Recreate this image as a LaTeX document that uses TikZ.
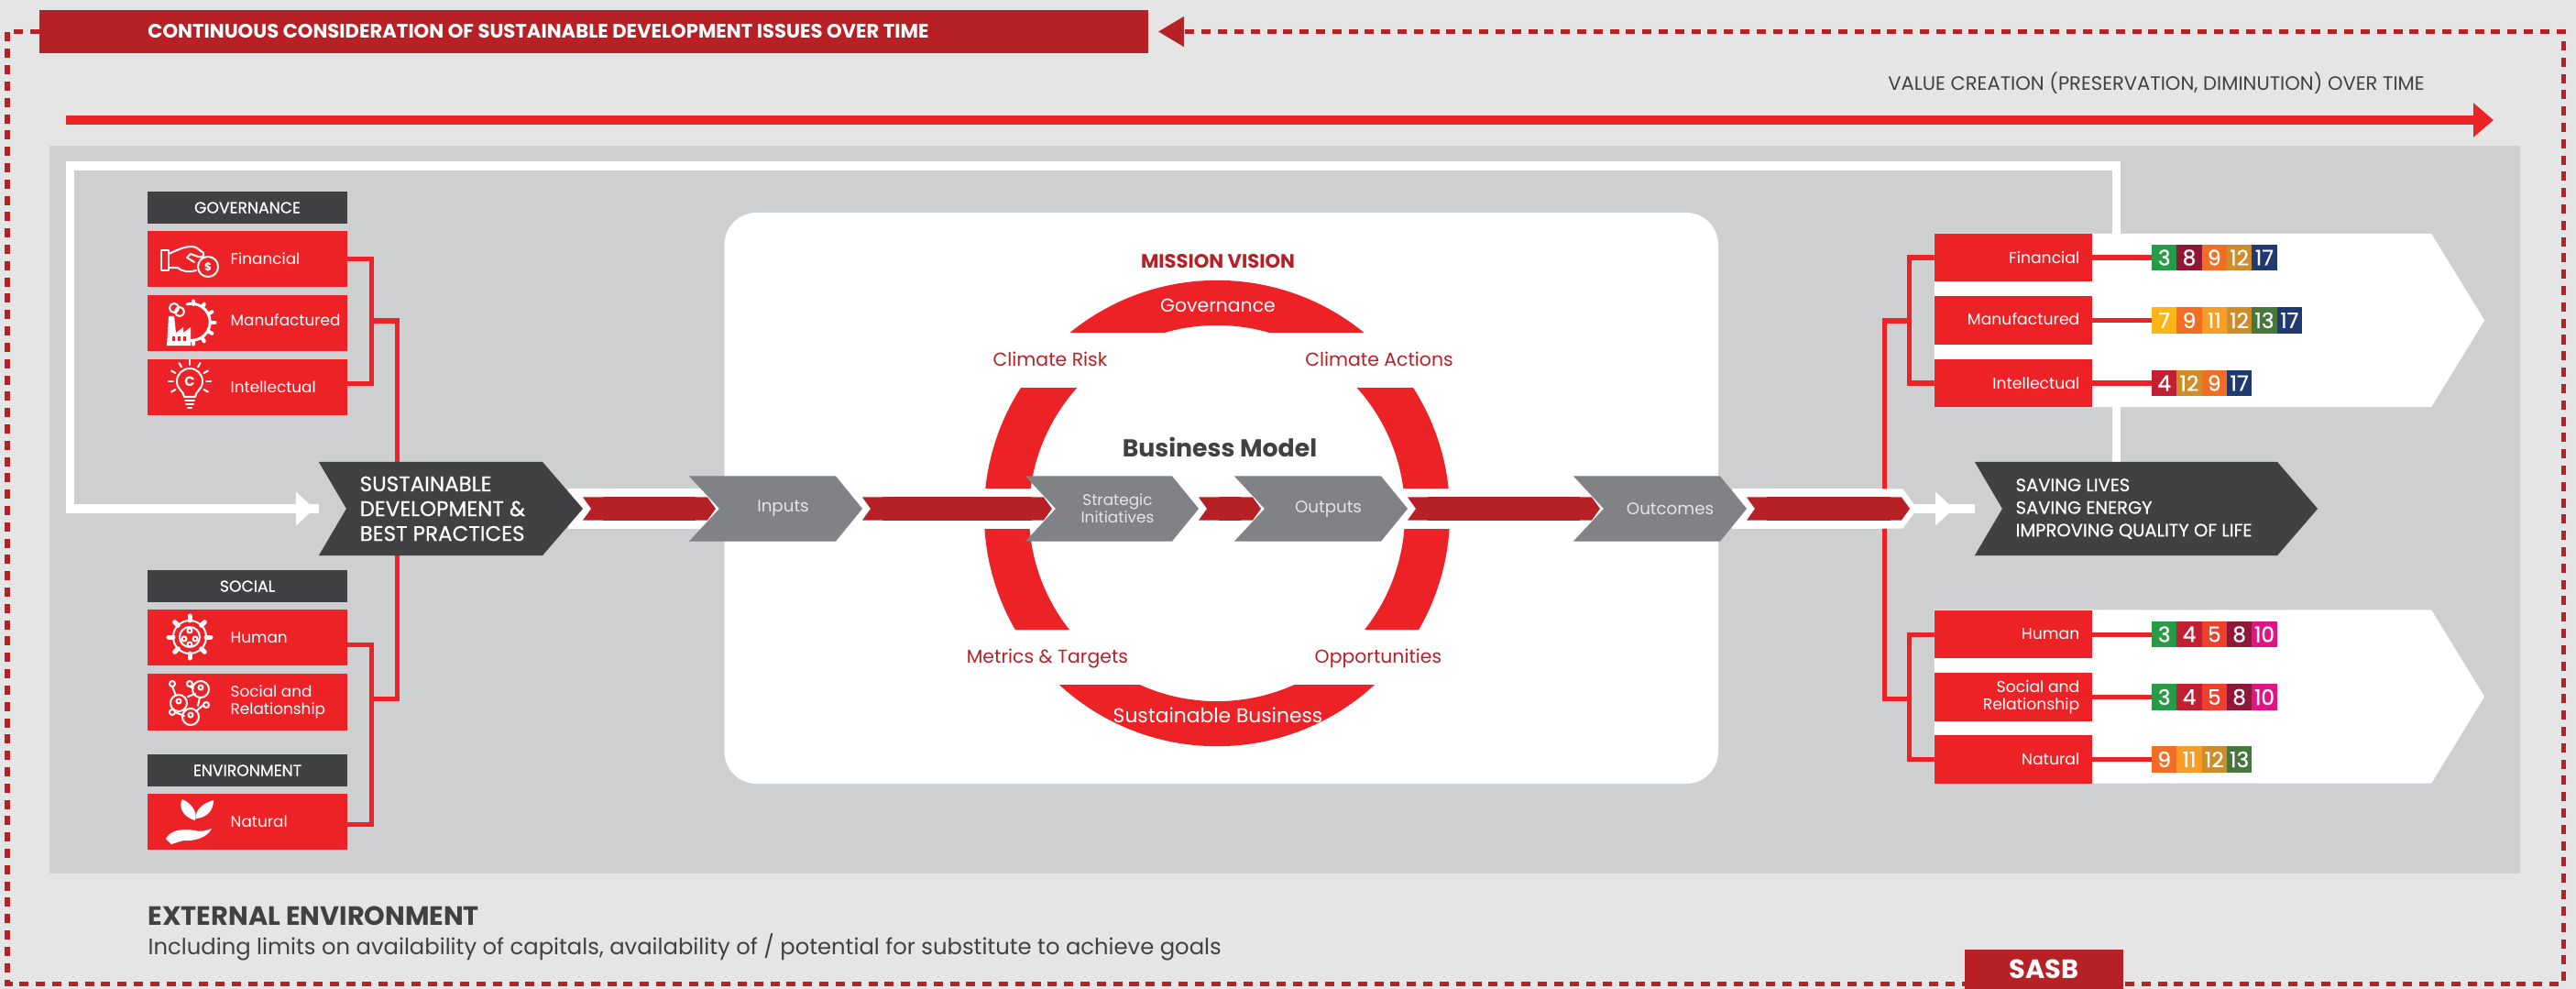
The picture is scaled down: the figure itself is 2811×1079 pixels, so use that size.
\documentclass[tikz,border=0pt]{standalone}
\usepackage{fontspec}
\setmainfont{Poppins}
\newfontfamily\medfont[FakeBold=0.6]{Poppins}
\usetikzlibrary{arrows.meta,positioning,backgrounds}

\definecolor{paper}{HTML}{E5E5E6}
\definecolor{panel}{HTML}{CDCFD1}
\definecolor{brightred}{HTML}{EC2227}
\definecolor{brick}{HTML}{B72126}
\definecolor{slate}{HTML}{414042}
\definecolor{midgrey}{HTML}{808285}
\definecolor{sdgA}{HTML}{279B48}
\definecolor{sdgB}{HTML}{C31F33}
\definecolor{sdgC}{HTML}{EF402B}
\definecolor{sdgD}{HTML}{FBB516}
\definecolor{sdgE}{HTML}{8F1838}
\definecolor{sdgF}{HTML}{F36D25}
\definecolor{sdgG}{HTML}{E11484}
\definecolor{sdgH}{HTML}{F99D26}
\definecolor{sdgI}{HTML}{CF8D2A}
\definecolor{sdgJ}{HTML}{48773E}
\definecolor{sdgK}{HTML}{1F3A70}

\newcommand{\tagpath}[2]{(path picture bounding box.north west) -- ([xshift=-#2]path picture bounding box.north east) -- (path picture bounding box.east) -- ([xshift=-#2]path picture bounding box.south east) -- (path picture bounding box.south west) -- ([xshift=#1]path picture bounding box.west) -- cycle}

\begin{document}
\begin{tikzpicture}[x=0.01cm,y=-0.01cm]
		\tikzstyle{base_box}=[rectangle,inner sep=0,outer sep=0]
		\tikzstyle{red_box}=[base_box,fill=brightred,minimum width=2.18cm,minimum height=.61cm]
		\tikzstyle{head_box}=[base_box,fill=slate,text=white,minimum width=2.18cm,minimum height=.35cm,font=\medfont\fontsize{4.9}{6}\selectfont]
		\tikzstyle{right_box}=[base_box,fill=brightred,minimum width=1.72cm,minimum height=.52cm]
		\tikzstyle{box_text}=[anchor=west,xshift=.9cm,inner sep=0,text=white,align=left,font=\fontsize{4.8}{5.4}\selectfont]
		\tikzstyle{right_text}=[anchor=east,xshift=-.13cm,inner sep=0,text=white,align=right,font=\fontsize{4.9}{5.4}\selectfont]
		\tikzstyle{sdg_badge}=[base_box,text=white,minimum width=.273cm,minimum height=.28cm,font=\medfont\fontsize{6.6}{7}\selectfont]
		\tikzstyle{grey_tag}=[base_box,minimum width=1.89cm,minimum height=.71cm,path picture={\fill [midgrey] \tagpath{.33cm}{.29cm};}]
		\tikzstyle{dark_tag}=[base_box,minimum height=1.02cm,path picture={\fill [slate] \tagpath{.3cm}{.44cm};}]
		\tikzstyle{white_tag}=[base_box,minimum width=6cm,minimum height=1.89cm,path picture={\fill [white] \tagpath{0cm}{.58cm};}]
		\tikzstyle{grey_text}=[inner sep=0,xshift=.08cm,text=paper,align=center,font=\fontsize{5.2}{5.4}\selectfont]
		\tikzstyle{dark_text}=[anchor=west,xshift=.44cm,inner sep=0,text=white,align=left,font=\medfont\fontsize{5.55}{7}\selectfont]
		\tikzstyle{ring_text}=[inner sep=0,text=brick,font=\fontsize{5.8}{6}\selectfont]
		\tikzstyle{link}=[draw=brightred,line width=.05cm]
		\tikzstyle{feedback}=[draw=white,line width=.09cm]
		\tikzstyle{head_tip}=[-{Triangle[length=.2cm,width=.36cm]}]
		\tikzstyle{flow_under}=[draw=white,line width=.43cm,shorten >=-.33cm,shorten <=-.16cm]
		\tikzstyle{flow_red}=[draw=brick,line width=.25cm,{Triangle Cap[length=.09cm,reversed]}-{Triangle Cap[length=.09cm]},shorten >=-.29cm]
		\tikzstyle{dash_frame}=[draw=brick,line width=.05cm,dash pattern=on .1cm off .078cm,-{Triangle[length=.28cm,width=.32cm,fill=brick]}]
		\tikzstyle{value_arrow}=[draw=brightred,line width=.105cm,-{Triangle[length=.22cm,width=.36cm]}]
		\tikzstyle{icon}=[draw=white,line width=.02cm,line cap=round,line join=round]
		\tikzstyle{icon_text}=[inner sep=0,text=white,font=\bfseries\fontsize{3.4}{4}\selectfont]

		\useasboundingbox (0,0) rectangle (2811,1079);

		% tags
		\node (SD) [dark_tag,minimum width=2.88cm] at (492,555) {};
		\node (RS) [dark_tag,minimum width=3.74cm] at (2342,555) {};
		\node (Inputs) [grey_tag] at (846.5,555) {};
		\node (Strategic) [grey_tag] at (1213.5,555) {};
		\node (Outputs) [grey_tag] at (1441.5,555) {};
		\node (Outcomes) [grey_tag] at (1811.5,555) {};

		% capitals, left
		\node (govHead) [head_box] at (270,226.5) {GOVERNANCE};
		\node (LFin) [red_box] at (270,282.25) {};
		\node (LMan) [red_box] at (270,352.75) {};
		\node (LInt) [red_box] at (270,422.5) {};
		\node (socHead) [head_box] at (270,639.5) {SOCIAL};
		\node (LHum) [red_box] at (270,695.5) {};
		\node (LSoc) [red_box] at (270,766) {};
		\node (envHead) [head_box] at (270,840.5) {ENVIRONMENT};
		\node (LNat) [red_box] at (270,896.5) {};
		\node at (LFin.west) [box_text] {Financial};
		\node at (LMan.west) [box_text,yshift=.04cm] {Manufactured};
		\node at (LInt.west) [box_text] {Intellectual};
		\node at (LHum.west) [box_text] {Human};
		\node at (LSoc.west) [box_text] {Social and\\Relationship};
		\node at (LNat.west) [box_text] {Natural};

		% capitals, right
		\node (RTop) [white_tag] at (2411,349.5) {};
		\node (RBot) [white_tag] at (2411,760) {};
		\node (RFin) [right_box] at (2197,281) {};
		\node (RMan) [right_box] at (2197,349.5) {};
		\node (RInt) [right_box] at (2197,418) {};
		\node (RHum) [right_box] at (2197,692) {};
		\node (RSoc) [right_box] at (2197,760.5) {};
		\node (RNat) [right_box] at (2197,828.5) {};
		\node at (RFin.east) [right_text] {Financial};
		\node at (RMan.east) [right_text,yshift=.02cm] {Manufactured};
		\node at (RInt.east) [right_text] {Intellectual};
		\node at (RHum.east) [right_text] {Human};
		\node at (RSoc.east) [right_text] {Social and\\Relationship};
		\node at (RNat.east) [right_text] {Natural};

		\coordinate (govBus) at (405.6,350);
		\coordinate (socBus) at (405.6,762);
		\coordinate (sdTop) at (433,504);
		\coordinate (sdLow) at (433,606);
		\coordinate (topBus) at (2083,350);
		\coordinate (lowBus) at (2083,762);
		\coordinate (trunk) at (2056,556);
		\coordinate (fbTopRight) at (2309,181);
		\coordinate (fbTopLeft) at (76.5,181);
		\coordinate (fbHeadL) at (343,555);
		\coordinate (fbHeadR) at (2132,555);
		\coordinate (flowEnd) at (2084,555);

		\begin{scope}[on background layer]
			\fill [paper] (0,0) rectangle (2811,1079);
			\fill [panel] (54,159) rectangle (2750,953);
			\fill [white,rounded corners=.35cm] (790.5,232) rectangle (1875,855);

			% business model ring
			\begin{scope}
				\clip (1000,290) rectangle (1650,363) (1000,423) rectangle (1650,533) (1000,577) rectangle (1650,687) (1000,747) rectangle (1650,830);
				\fill [brightred,even odd rule] (1328,560) circle [radius=2.54cm] (1328,560) circle [radius=2.05cm];
			\end{scope}

			% feedback line
			\draw [feedback] (RS.north -| fbTopRight) -- (fbTopRight) -- (fbTopLeft) -- (fbTopLeft |- SD.west) -- (SD.west);
			\draw [feedback,head_tip] (fbTopLeft |- SD.west) -- (fbHeadL);
			\draw [feedback] (flowEnd) -- (RS.west);
			\draw [feedback,head_tip] (flowEnd) -- (fbHeadR);

			% brackets
			\draw [link] (LFin.east) -| (govBus) |- ([yshift=.04cm]LInt.east);
			\draw [link] ([yshift=-.08cm]LHum.east) -| (socBus) |- ([yshift=-.025cm]LNat.east);
			\draw [link] (govBus) -| (sdTop);
			\draw [link] (socBus) -| (sdLow);
			\draw [link] (RFin.west) -| (topBus) |- (RInt.west);
			\draw [link] (RHum.west) -| (lowBus) |- (RNat.west);
			\draw [link] (topBus) -| (trunk) |- (lowBus);

			\draw [flow_under] (SD.east) -- (Inputs.west);
			\draw [flow_under] (Inputs.east) -- (Strategic.west);
			\draw [flow_under] (Strategic.east) -- (Outputs.west);
			\draw [flow_under] (Outputs.east) -- (Outcomes.west);
			\draw [draw=white,line width=.43cm,shorten <=-.16cm,shorten >=-.08cm,-{Triangle Cap[length=.155cm]}] (Outcomes.east) -- (flowEnd);
		\end{scope}

		% top band
		\node (banner) [base_box,fill=brick,minimum width=12.1cm,minimum height=.46cm] at (648,34.5) {};
		\node at (banner.west) [anchor=west,xshift=1.18cm,inner sep=0,text=white,font=\bfseries\fontsize{6.02}{7}\selectfont] {CONTINUOUS CONSIDERATION OF SUSTAINABLE DEVELOPMENT ISSUES OVER TIME};
		\node (value) [inner sep=0,text=slate,font=\fontsize{6}{6}\selectfont] at (2353,91) {VALUE CREATION (PRESERVATION, DIMINUTION) OVER TIME};
		\coordinate (valueStart) at (72,131);
		\coordinate (valueEnd) at (2721,131);
		\draw [value_arrow] (valueStart) -- (valueEnd);

		% goal badges
		\node (F3) [sdg_badge,anchor=west,fill=sdgA] at (2348,281) {3};
		\node (F8) [sdg_badge,fill=sdgE,right=0pt of F3] {8};
		\node (F9) [sdg_badge,fill=sdgF,right=0pt of F8] {9};
		\node (F12) [sdg_badge,fill=sdgI,right=0pt of F9] {12};
		\node (F17) [sdg_badge,fill=sdgK,right=0pt of F12] {17};

		\node (M7) [sdg_badge,anchor=west,fill=sdgD] at (2348,349.5) {7};
		\node (M9) [sdg_badge,fill=sdgF,right=0pt of M7] {9};
		\node (M11) [sdg_badge,fill=sdgH,right=0pt of M9] {11};
		\node (M12) [sdg_badge,fill=sdgI,right=0pt of M11] {12};
		\node (M13) [sdg_badge,fill=sdgJ,right=0pt of M12] {13};
		\node (M17) [sdg_badge,fill=sdgK,right=0pt of M13] {17};

		\node (I4) [sdg_badge,anchor=west,fill=sdgB] at (2348,418) {4};
		\node (I12) [sdg_badge,fill=sdgI,right=0pt of I4] {12};
		\node (I9) [sdg_badge,fill=sdgF,right=0pt of I12] {9};
		\node (I17) [sdg_badge,fill=sdgK,right=0pt of I9] {17};

		\node (H3) [sdg_badge,anchor=west,fill=sdgA] at (2348,692) {3};
		\node (H4) [sdg_badge,fill=sdgB,right=0pt of H3] {4};
		\node (H5) [sdg_badge,fill=sdgC,right=0pt of H4] {5};
		\node (H8) [sdg_badge,fill=sdgE,right=0pt of H5] {8};
		\node (H10) [sdg_badge,fill=sdgG,right=0pt of H8] {10};

		\node (S3) [sdg_badge,anchor=west,fill=sdgA] at (2348,760.5) {3};
		\node (S4) [sdg_badge,fill=sdgB,right=0pt of S3] {4};
		\node (S5) [sdg_badge,fill=sdgC,right=0pt of S4] {5};
		\node (S8) [sdg_badge,fill=sdgE,right=0pt of S5] {8};
		\node (S10) [sdg_badge,fill=sdgG,right=0pt of S8] {10};

		\node (N9) [sdg_badge,anchor=west,fill=sdgF] at (2348,828.5) {9};
		\node (N11) [sdg_badge,fill=sdgH,right=0pt of N9] {11};
		\node (N12) [sdg_badge,fill=sdgI,right=0pt of N11] {12};
		\node (N13) [sdg_badge,fill=sdgJ,right=0pt of N12] {13};

		\draw [link] (RFin.east) -- (F3.west);
		\draw [link] (RMan.east) -- (M7.west);
		\draw [link] (RInt.east) -- (I4.west);
		\draw [link] (RHum.east) -- (H3.west);
		\draw [link] (RSoc.east) -- (S3.west);
		\draw [link] (RNat.east) -- (N9.west);

		% flow between the tags
		\draw [flow_red] (SD.east) -- (Inputs.west);
		\draw [flow_red] (Inputs.east) -- (Strategic.west);
		\draw [flow_red] (Strategic.east) -- (Outputs.west);
		\draw [flow_red] (Outputs.east) -- (Outcomes.west);
		\draw [flow_red,shorten >=0pt] (Outcomes.east) -- (flowEnd);

		\node at (Inputs) [grey_text] {Inputs};
		\node at (Strategic) [grey_text,xshift=-.02cm,font=\fontsize{4.8}{5.4}\selectfont] {Strategic\\Initiatives};
		\node at (Outputs) [grey_text] {Outputs};
		\node at (Outcomes) [grey_text,xshift=.03cm] {Outcomes};
		\node at (SD.west) [dark_text,font=\medfont\fontsize{6.55}{7.7}\selectfont] {SUSTAINABLE\\DEVELOPMENT \&\\BEST PRACTICES};
		\node at (RS.west) [dark_text] {SAVING LIVES\\SAVING ENERGY\\IMPROVING QUALITY OF LIFE};

		% ring labels
		\node (mission) [ring_text,font=\bfseries\fontsize{6}{6}\selectfont] at (1329,285.5) {MISSION VISION};
		\node (gov) [ring_text,text=white] at (1329,333) {Governance};
		\node (risk) [ring_text] at (1146,392) {Climate Risk};
		\node (actions) [ring_text] at (1505,392) {Climate Actions};
		\node (model) [ring_text,text=slate,font=\bfseries\fontsize{7.6}{8}\selectfont] at (1331,488) {Business Model};
		\node (metrics) [ring_text] at (1143,718) {Metrics \& Targets};
		\node (opps) [ring_text] at (1504,718) {Opportunities};
		\node (sust) [ring_text,text=white,font=\fontsize{6.2}{7}\selectfont] at (1329,780.5) {Sustainable Business};

		% foot
		\node (external) [anchor=west,inner sep=0,text=slate,font=\bfseries\fontsize{8.2}{9}\selectfont] at (161,999) {EXTERNAL ENVIRONMENT};
		\node (limits) [anchor=west,inner sep=0,text=slate,font=\fontsize{6.9}{7}\selectfont] at (161,1033) {Including limits on availability of capitals, availability of / potential for substitute to achieve goals};
		\coordinate (frameSW) at (8,1073);
		\coordinate (frameNE) at (2797,34.5);
		\coordinate (frameTip) at (1264,34.5);
		\draw [dash_frame] (banner.west) -| (frameSW) -| (frameNE) -- (frameTip);
		\node (SASB) [base_box,fill=brick,text=white,minimum width=1.73cm,minimum height=.43cm,font=\bfseries\fontsize{8.2}{9}\selectfont] at (2230.5,1057.5) {\raisebox{-.14cm}{SASB}};

		% icons
		\draw [icon] (176,273) rectangle (184,295);
		\draw [icon] (184,277) .. controls (195,272) and (205,267) .. (214,270) -- (222,276) .. controls (223,280) and (220,281) .. (216,280) -- (208,277) -- (204,281) -- (212,286);
		\draw [icon] (184,292) -- (194,292) .. controls (200,297) and (206,297) .. (214,295);
		\draw [icon] (227,291) circle [radius=.11cm];
		\node at (227,291) [icon_text] {\$};

		\draw [icon,line width=.03cm] (204,332) arc [start angle=105,end angle=-110,radius=.2cm];
		\foreach \a in {-90,-60,...,90}
			\draw [icon,line width=.04cm] (211,352) ++(\a:.2cm) -- ++(\a:.035cm);
		\draw [icon] (190,336) circle [radius=.05cm] (196,340) circle [radius=.05cm];
		\fill [white] (182,377) -- (184,345) -- (190,345) -- (192,363) -- (200,357) -- (200,363) -- (208,357) -- (208,377) -- cycle;
		\foreach \x in {188,194,200}
			\fill [brightred] (\x,367) rectangle +(.03cm,-.05cm);

		\draw [icon] (201,433) .. controls (201,427) and (193,425) .. (193,416) arc [start angle=180,end angle=0,radius=.14cm] .. controls (221,425) and (213,427) .. (213,433) -- cycle;
		\draw [icon] (202,437) -- (212,437) (203,441) -- (211,441) (205,445) -- (209,445);
		\node at (207,416) [icon_text,font=\bfseries\fontsize{4.2}{5}\selectfont] {C};
		\foreach \a in {-30,0,30,60,90,120,150,180,210}
			\draw [icon] (207,416) ++(\a:.18cm) -- ++(\a:.05cm);

		\draw [icon] (207,695) circle [radius=.18cm] (207,695) circle [radius=.11cm];
		\foreach \a in {0,45,...,315}
			\draw [icon,line width=.05cm] (207,695) ++(\a:.18cm) -- ++(\a:.05cm);
		\draw [icon] (207,688) circle [radius=.025cm] (201,697) circle [radius=.025cm] (213,697) circle [radius=.025cm] (207,703) circle [radius=.025cm];

		\draw [icon] (219,752) circle [radius=.09cm] (195,767) circle [radius=.09cm] (208,782) circle [radius=.09cm];
		\draw [icon] (188,746) circle [radius=.03cm] (207,746) circle [radius=.03cm] (188,777) circle [radius=.03cm] (225,769) circle [radius=.03cm];
		\draw [icon] (188,749) -- (192,759) (207,749) -- (211,751) (191,777) -- (201,781) (222,769) -- (214,776) (218,761) -- (216,770) (205,760) -- (213,757);
		\draw [icon] (219,750) circle [radius=.025cm] (195,765) circle [radius=.025cm] (208,780) circle [radius=.025cm];

		\fill [white] (213,895) .. controls (200,892) and (194,880) .. (199,872) .. controls (208,876) and (216,885) .. (213,895);
		\fill [white] (214,893) .. controls (212,884) and (222,876) .. (233,873) .. controls (233,884) and (226,892) .. (214,893);
		\fill [white] (181,915) .. controls (186,906) and (196,905) .. (206,905) -- (212,906) .. controls (218,908) and (226,906) .. (231,904) .. controls (226,914) and (212,918) .. (200,917) -- (187,921) -- cycle;
	\end{tikzpicture}
\end{document}
